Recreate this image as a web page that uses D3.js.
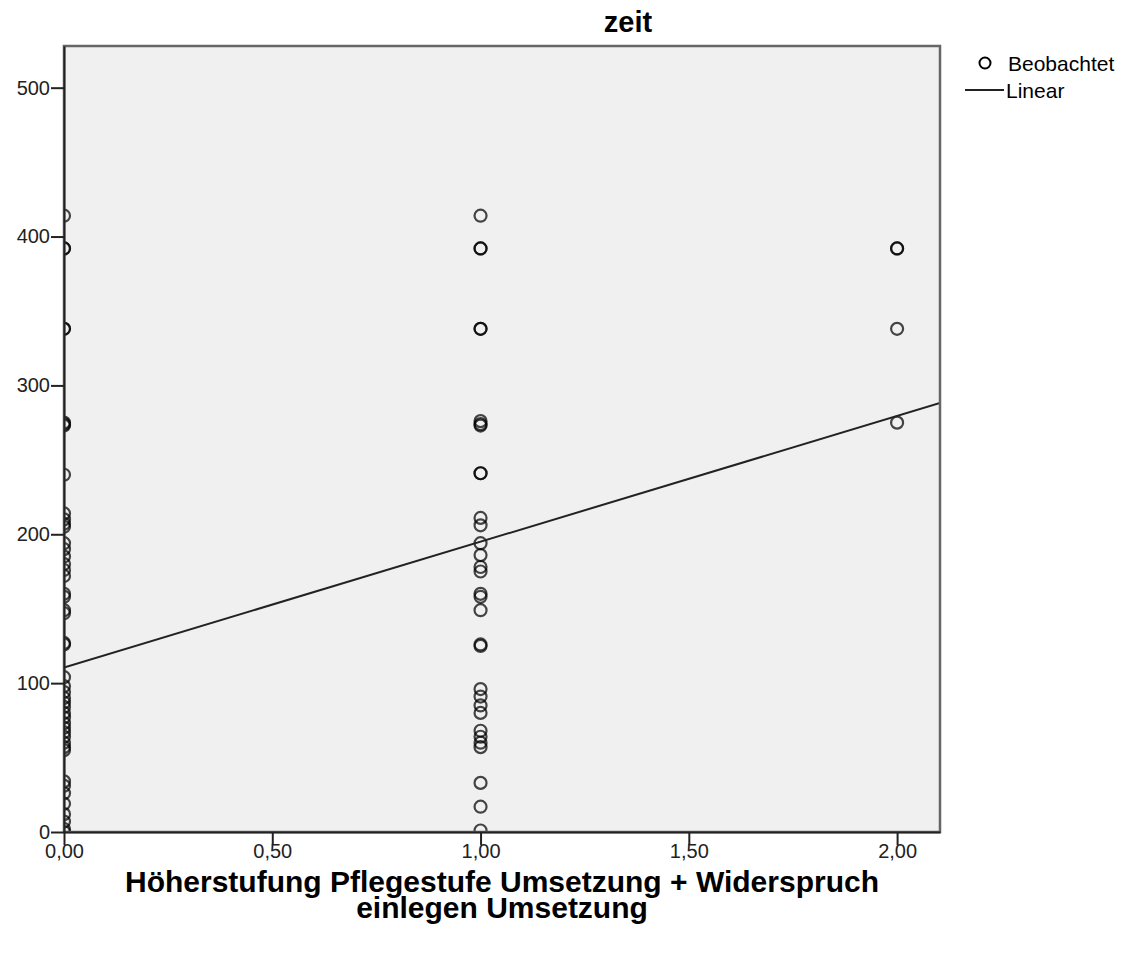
<!DOCTYPE html>
<html>
<head>
<meta charset="utf-8">
<script src="https://cdn.jsdelivr.net/npm/d3@7"></script>
<style>
  body { margin: 0; background: #fff; }
  text { font-family: "Liberation Sans", Arial, sans-serif; }
</style>
</head>
<body>
<div id="chart"></div>
<script>
// observed values of "zeit" per group
const groupX = [0, 1, 2];
const zeitAt0 = [414, 392, 392, 338, 338, 275, 274, 273, 240, 214, 210, 207, 205, 194, 190, 185, 180,
  176, 172, 160, 158, 149, 147, 127, 126, 104, 98, 94, 90, 87, 84, 80, 77, 73, 70, 67, 64, 60, 57, 55,
  34, 31, 26, 19, 12, 7, 2, 0];
const zeitAt1 = [414, 392, 392, 338, 338, 276, 274, 273, 241, 241, 211, 206, 194, 186, 178, 175, 160,
  158, 149, 126, 125, 96, 91, 85, 80, 68, 64, 60, 57, 33, 17, 1];
const zeitAt2 = [392, 392, 338, 275];
// lineare Anpassung
const fitIntercept = 110.5;
const fitSlope = 84.5;
const xTicks = [0, 0.5, 1, 1.5, 2];
const yTicks = [0, 100, 200, 300, 400, 500];

const width = 1122, height = 954;
const margin = { top: 46, right: 182, bottom: 122, left: 64 };
const innerW = width - margin.left - margin.right;
const innerH = height - margin.top - margin.bottom;

const points = [];
[zeitAt0, zeitAt1, zeitAt2].forEach((arr, i) => arr.forEach(v => points.push({ x: groupX[i], y: v })));

const x = d3.scaleLinear().domain([0, 2.103]).range([0, innerW]);
const y = d3.scaleLinear().domain([0, 528]).range([innerH, 0]);

const svg = d3.select("#chart").append("svg")
    .attr("width", width)
    .attr("height", height);

svg.append("defs").append("clipPath").attr("id", "clip")
    .append("rect").attr("width", innerW).attr("height", innerH);

const g = svg.append("g")
    .attr("transform", `translate(${margin.left},${margin.top})`);

// Hintergrund
g.append("rect")
    .attr("width", innerW)
    .attr("height", innerH)
    .attr("fill", "#f0f0f0");

const plot = g.append("g").attr("clip-path", "url(#clip)");

plot.selectAll("circle")
    .data(points)
    .enter().append("circle")
    .attr("cx", d => x(d.x))
    .attr("cy", d => y(d.y))
    .attr("r", 6)
    .attr("fill", "none")
    .attr("stroke", "#000")
    .attr("stroke-opacity", 0.72)
    .attr("stroke-width", 2.2);

const xd = x.domain();
plot.append("line")
    .attr("x1", x(xd[0])).attr("y1", y(fitIntercept + fitSlope * xd[0]))
    .attr("x2", x(xd[1])).attr("y2", y(fitIntercept + fitSlope * xd[1]))
    .attr("stroke", "#222")
    .attr("stroke-width", 2);

// Rahmen
g.append("rect")
    .attr("width", innerW)
    .attr("height", innerH)
    .attr("fill", "none")
    .attr("stroke", "#666")
    .attr("stroke-width", 2.5);

const fmt = d => d3.format(".2f")(d).replace(".", ",");

const xAxis = g.append("g")
    .attr("transform", `translate(0,${innerH})`)
    .call(d3.axisBottom(x).tickValues(xTicks).tickFormat(fmt).tickSize(13).tickSizeOuter(0));
const yAxis = g.append("g")
    .call(d3.axisLeft(y).tickValues(yTicks).tickSize(13).tickSizeOuter(0));

[xAxis, yAxis].forEach(a => {
    a.select(".domain").attr("stroke", "#222").attr("stroke-width", 2);
    a.selectAll(".tick line").attr("stroke", "#222").attr("stroke-width", 2);
    a.selectAll("text").attr("fill", "#222").style("font-size", "20px")
        .style("font-family", "'Liberation Sans', Arial, sans-serif");
});
yAxis.selectAll("text").attr("x", -14);
xAxis.selectAll("text").attr("y", 12);

// Titel
svg.append("text")
    .attr("x", 628)
    .attr("y", 32)
    .attr("text-anchor", "middle")
    .style("font-size", "29px")
    .style("font-weight", "bold")
    .text("zeit");

const xTitle = svg.append("text")
    .attr("x", margin.left + innerW / 2)
    .attr("text-anchor", "middle")
    .style("font-size", "30px")
    .style("font-weight", "bold");
xTitle.append("tspan").attr("x", margin.left + innerW / 2).attr("y", 892)
    .text("Höherstufung Pflegestufe Umsetzung + Widerspruch");
xTitle.append("tspan").attr("x", margin.left + innerW / 2).attr("y", 918)
    .text("einlegen Umsetzung");

// Legende
const legend = svg.append("g");
legend.append("circle")
    .attr("cx", 985).attr("cy", 63).attr("r", 5.5)
    .attr("fill", "none").attr("stroke", "#000").attr("stroke-width", 2);
legend.append("text")
    .attr("x", 1008).attr("y", 71)
    .style("font-size", "21px")
    .text("Beobachtet");
legend.append("line")
    .attr("x1", 965).attr("x2", 1004).attr("y1", 90).attr("y2", 90)
    .attr("stroke", "#222").attr("stroke-width", 2);
legend.append("text")
    .attr("x", 1006).attr("y", 98)
    .style("font-size", "21px")
    .text("Linear");
</script>
</body>
</html>
